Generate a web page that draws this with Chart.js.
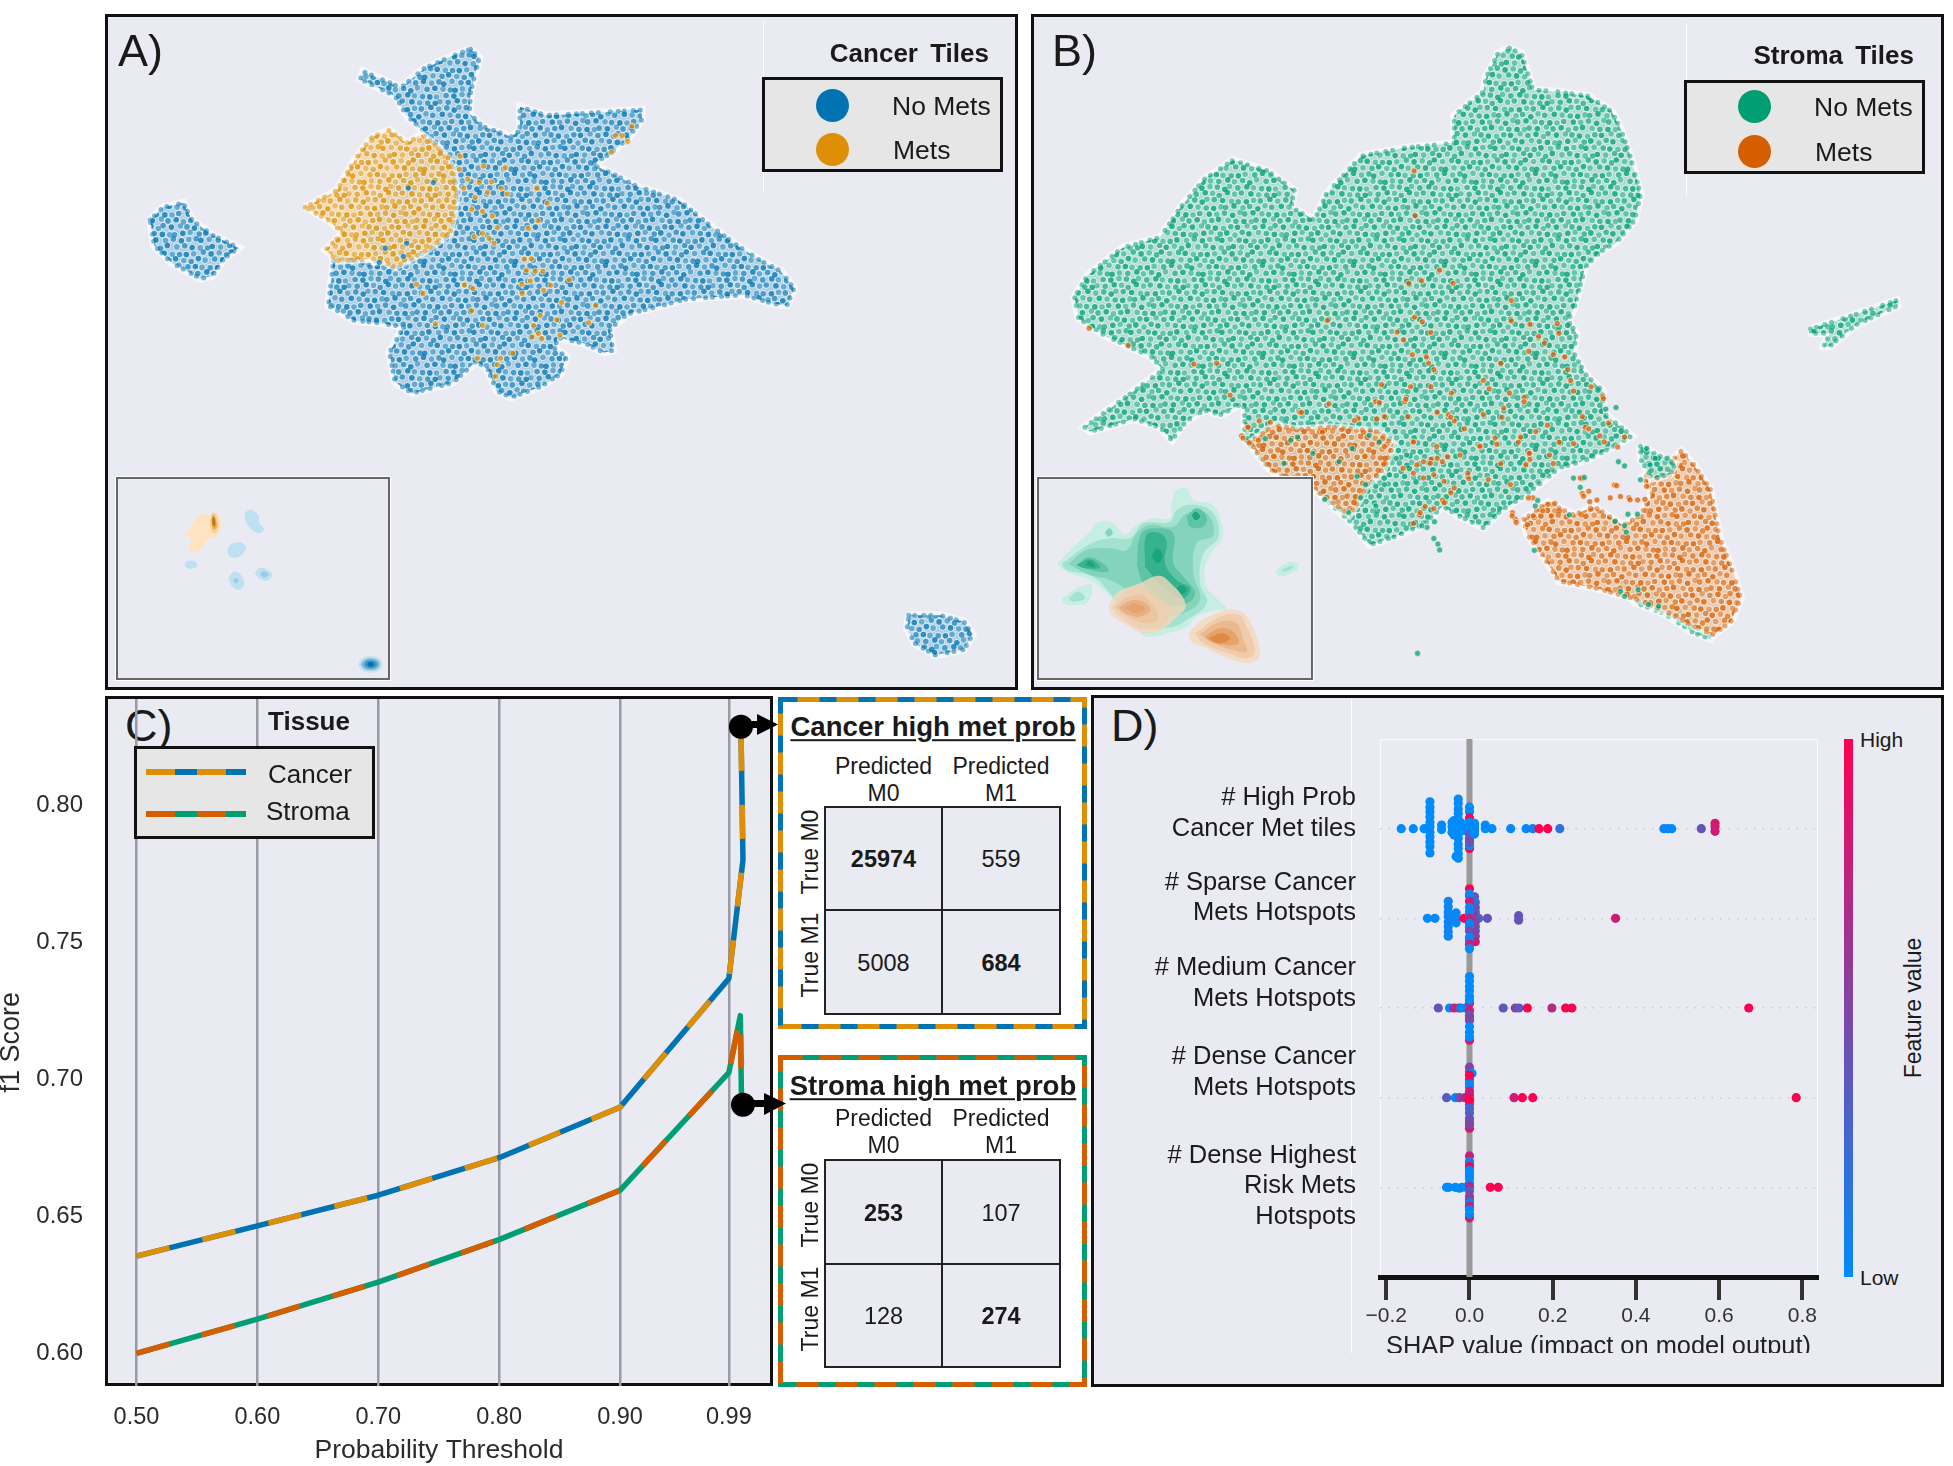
<!DOCTYPE html>
<html>
<head>
<meta charset="utf-8">
<title>Tiles, f1 score and SHAP summary</title>
<script src="https://cdn.jsdelivr.net/npm/chart.js@4/dist/chart.umd.js"></script>
<style>
  html, body { margin: 0; padding: 0; background: #fff; }
  #page { position: relative; width: 1953px; height: 1466px; overflow: hidden; font-family: "Liberation Sans", Arial, sans-serif; color: #1a1a1a; }
  #page > * { position: absolute; }
  .t { white-space: pre; line-height: 1; }
</style>
</head>
<body>
<div id="page"></div>
<script>
// panel C: f1 score against probability threshold
const thresholdTicks = [0.5, 0.6, 0.7, 0.8, 0.9, 0.99];
const f1Ticks = [0.6, 0.65, 0.7, 0.75, 0.8];
const cancerX = [0.5, 0.6, 0.7, 0.8, 0.9, 0.99, 1.0017, 1.0];
const cancerF1 = [0.6355, 0.6465, 0.6577, 0.6714, 0.6898, 0.7367, 0.78, 0.8286];
const stromaX = [0.5, 0.6, 0.7, 0.8, 0.9, 0.99, 0.9995, 1.0005];
const stromaF1 = [0.6, 0.6125, 0.626, 0.6415, 0.6595, 0.7024, 0.7232, 0.6915];
const highProbX = [1.0, 1.0017];
const highProbF1 = [0.8286, 0.6907];

// confusion matrices
const cancerMatrix = [[25974, 559], [5008, 684]];
const stromaMatrix = [[253, 107], [128, 274]];

// panel D: [shap value, swarm offset in rows, feature value 0..1]
const shapFeatures = [
  ["# High Prob", "Cancer Met tiles"],
  ["# Sparse Cancer", "Mets Hotspots"],
  ["# Medium Cancer", "Mets Hotspots"],
  ["# Dense Cancer", "Mets Hotspots"],
  ["# Dense Highest", "Risk Mets", "Hotspots"],
];
const shapTicks = [-0.2, 0, 0.2, 0.4, 0.6, 0.8];
const shapHighProb = [
  [-0.164,0,0],[-0.135,0,0],[-0.109,0,0],
  [-0.095,0.3,0],[-0.095,0.24,0],[-0.095,0.19,0],[-0.095,0.13,0],[-0.095,0.07,0],[-0.095,0.02,0],[-0.095,-0.04,0],[-0.095,-0.09,0],[-0.095,-0.15,0],[-0.095,-0.2,0],[-0.095,-0.27,0],
  [-0.067,0.04,0],[-0.067,-0.01,0],
  [-0.027,0.33,0],[-0.027,0.28,0],[-0.027,0.22,0],[-0.027,0.17,0],[-0.027,0.11,0],[-0.027,0.06,0],[-0.027,0,0],[-0.027,-0.06,0],[-0.027,-0.11,0],[-0.027,-0.17,0],[-0.027,-0.22,0],[-0.027,-0.28,0],[-0.032,-0.31,0],[-0.027,-0.33,0],
  [-0.042,0.07,0],[-0.042,0.02,0],[-0.042,-0.04,0],[-0.037,0.09,0],[-0.037,-0.07,0],[-0.019,0.06,0],[-0.019,-0.02,0],[-0.01,0.04,0],[-0.01,-0.02,0],
  [0,-0.22,1],[0,-0.19,0],[0,0.24,0],[0,0.19,0],[0,0.12,1],[0,0.07,0],[0,0.02,0],[0,-0.02,0],[0,-0.06,0.3],[0,-0.11,0.4],[0,-0.15,0.45],
  [0.012,0.06,0],[0.012,0.03,0],[0.012,0,0],[0.012,-0.03,0],[0.012,-0.06,0],[0.038,0.04,0],[0.038,0,0],[0.054,0,0],
  [0.099,0,0.03],[0.136,0,0],[0.152,0,0.08],[0.167,0,1],[0.188,0,1],[0.217,0,0.18],
  [0.467,0,0.05],[0.477,0,0.05],[0.486,0,0],[0.557,0,0.4],[0.59,0.06,0.85],[0.59,0.02,0.8],[0.59,-0.03,0.8],
];
const shapSparse = [
  [-0.101,0,0],[-0.083,0,0.03],
  [-0.051,0.19,0.05],[-0.051,0.13,0.05],[-0.051,0.07,0.05],[-0.051,0.02,0.05],[-0.051,-0.04,0.05],[-0.051,-0.09,0.05],[-0.051,-0.15,0.05],[-0.051,-0.2,0.05],
  [-0.032,0.06,0.03],[-0.032,0,0.03],[-0.032,-0.05,0.03],
  [-0.013,0,1],[0,0.33,1],[0.012,0.24,0.35],[0.014,0.18,0.2],[0.014,0.12,0.4],[0.014,0.07,0.4],[0.014,0.03,0.35],[0.014,0.01,0.9],[0.022,0,0.3],[0.014,-0.04,0.5],[0.014,-0.09,0.5],[0.014,-0.14,0.45],[0.014,-0.2,0.5],[0.014,-0.26,0.8],
  [0,0.27,0],[0,0.25,0.05],[0,0.19,0.8],[0,0.12,0.05],[0,0.07,0.05],[0,0.03,0.05],[0,0,0.7],[0,-0.06,0],[0,-0.1,0],[0,-0.14,0.45],[0,-0.21,0.02],[0,-0.25,0.05],[0,-0.29,0.75],[0,-0.34,0],
  [0.043,0,0.4],[0.118,0.03,0.4],[0.118,-0.02,0.4],[0.351,0,0.8],
];
const shapMedium = [
  [-0.075,0,0.4],[-0.048,0,0],[-0.037,0,0.7],[-0.026,0,0.8],[-0.021,0,0.03],[-0.01,0,0],
  [0,0.05,0.7],[0,-0.03,0.8],[0,-0.36,0.8],[0,-0.08,0.4],[0,-0.14,0.4],[0,-0.11,0.5],
  [0,0.35,0],[0,0.3,0],[0,0.24,0],[0,0.19,0],[0,0.13,0],[0,0.09,0],[0,-0.21,0],[0,-0.27,0],[0,-0.32,0],
  [0.081,0,0.35],[0.11,0,0.55],[0.119,0,0.35],[0.139,0,1],[0.198,0,0.7],[0.231,0,1],[0.246,0,1],[0.671,0,1],
];
const shapDense = [
  [-0.055,0,0.35],[-0.034,0,0],[-0.024,0,0.45],[-0.011,0,0.75],
  [0,0.34,0.5],[0,0.29,0.5],[0.006,0.27,0],[0,0.2,0.8],[0,0.16,0.05],[0,0.12,0.05],[0,0.07,0.8],[0,0.03,0.8],[0,-0.04,0.9],[0,-0.08,0.4],[0,-0.12,0.3],[0,-0.17,0.3],[0,-0.23,0.4],[0,-0.27,0.45],[0,-0.34,0.85],[0,-0.3,0.5],[0,0.25,1],[0,-0.02,1],
  [0.107,0,0.8],[0.127,0,1],[0.152,0,1],[0.785,0,1],
];
const shapHighest = [
  [-0.055,0,0],[-0.05,0,0],[-0.034,0,0],[-0.024,-0.01,0],[-0.018,0,0],[-0.008,0,0],
  [0,0.35,0.8],[0,0.29,0.1],[0,0.26,0.1],[0,0.23,1],[0,0.19,0],[0,0.16,0],[0,0.13,0],[0,0.1,0],[0,0.05,0],[0,0.01,0.7],[0,-0.04,0.35],[0,-0.1,0.5],[0,-0.14,0.6],[0,-0.17,0.05],[0,-0.34,0.85],[0,-0.21,0.8],[0,-0.25,0],[0,-0.3,0],
  [0.05,0,1],[0.069,0,1],
];

// panel A: cloud outlines in embedding units, first and last vertex the same
const cancerNoMetsMain = [[630,80],[645,100],[630,180],[628,230],[650,260],[700,285],[715,270],[715,215],[760,235],[830,230],[925,222],[925,245],[900,290],[870,325],[840,350],[880,375],[915,400],[990,435],[1040,490],[1090,540],[1130,575],[1165,600],[1187,640],[1175,680],[1150,675],[1100,655],[1050,660],[1000,665],[960,680],[930,690],[900,700],[870,735],[875,785],[860,790],[830,770],[780,755],[775,780],[795,800],[785,840],[750,870],[700,895],[675,880],[660,830],[640,810],[600,860],[530,885],[500,860],[490,790],[515,730],[470,720],[430,715],[385,680],[390,620],[395,560],[470,590],[450,500],[555,280],[520,235],[500,190],[440,150],[445,132],[510,170],[550,125],[600,95],[630,80]];
const cancerNoMetsLeft = [[78,480],[100,450],[135,440],[150,480],[185,515],[230,545],[205,570],[185,610],[165,617],[115,580],[85,540],[78,480]];
const cancerNoMetsRight = [[1385,1405],[1440,1405],[1480,1420],[1495,1450],[1480,1485],[1430,1498],[1395,1470],[1382,1435],[1385,1405]];
const cancerMetsMain = [[345,450],[400,410],[430,340],[460,285],[490,270],[520,300],[545,280],[575,310],[600,360],[605,430],[595,510],[555,550],[500,590],[470,570],[400,575],[380,550],[410,510],[385,480],[345,450]];
const cancerMetsTiles = [[440,105],[477,100],[548,130],[614,135],[475,140],[500,170],[535,180],[572,178],[488,197],[560,210],[602,197],[620,215],[710,198],[523,225],[742,243],[512,262],[545,268],[575,282],[713,296],[684,320],[590,318],[545,335],[520,345],[565,350],[580,365],[693,412],[672,413],[678,447],[705,450],[728,450],[690,480],[665,490],[752,493],[808,476],[665,518],[730,508],[785,545],[888,555],[720,585],[700,615],[715,640],[725,655],[695,650],[780,645],[770,598],[867,607],[512,570],[402,610],[365,518],[345,490],[490,492],[516,503],[530,715],[600,715],[590,735],[585,770],[637,700],[545,615],[948,37],[968,37],[985,55],[998,8],[936,88]];
const cancerNoMetsTiles = [[320,197],[396,180],[315,365],[250,380],[305,405],[232,423]];

// panel B
const stromaNoMetsMain = [[815,78],[835,90],[845,130],[855,175],[900,180],[950,190],[990,225],[1005,265],[1020,320],[1030,370],[1040,420],[1030,480],[1000,530],[970,555],[945,590],[935,640],[925,690],[915,715],[930,745],[925,790],[945,840],[975,880],[975,930],[1025,985],[1000,1005],[950,1040],[900,1060],[860,1105],[835,1130],[800,1160],[770,1200],[725,1170],[700,1150],[670,1190],[620,1220],[575,1240],[545,1190],[480,1110],[400,1060],[360,990],[360,920],[355,910],[320,935],[290,925],[260,950],[235,995],[215,965],[170,945],[95,975],[85,965],[170,880],[220,830],[200,800],[120,750],[75,710],[68,660],[90,610],[150,545],[215,520],[250,450],[290,385],[340,340],[400,365],[445,410],[440,450],[480,480],[500,420],[560,330],[640,310],[720,300],[720,235],[770,180],[775,145],[795,90],[815,78]];
const stromaNoMetsRight = [[1332,735],[1400,705],[1480,668],[1482,680],[1410,725],[1365,775],[1355,775],[1365,745],[1335,745],[1332,735]];
const stromaNoMetsStrip = [[1010,1330],[1050,1340],[1100,1390],[1165,1440],[1160,1460],[1130,1445],[1080,1400],[1030,1375],[1010,1330]];
const stromaNoMetsNeck = [[1040,1010],[1100,1050],[1090,1075],[1060,1085],[1040,1040],[1040,1010]];
const stromaMetsTail = [[840,1180],[880,1140],[925,1170],[960,1150],[1010,1195],[1040,1170],[1060,1120],[1045,1080],[1090,1050],[1110,1020],[1130,1050],[1160,1110],[1175,1220],[1200,1310],[1212,1365],[1195,1420],[1165,1450],[1130,1430],[1090,1400],[1040,1370],[960,1340],[900,1325],[870,1260],[845,1215],[840,1180]];
const stromaMetsLeft = [[370,1000],[410,960],[450,970],[510,965],[590,975],[615,1005],[600,1060],[570,1100],[555,1140],[540,1170],[480,1110],[410,1070],[385,1030],[370,1000]];
const stromaMetsTiles = [[651,365],[653,470],[695,597],[664,622],[642,628],[718,628],[818,668],[502,715],[652,707],[665,718],[622,742],[680,743],[818,716],[850,724],[897,722],[900,745],[633,760],[865,752],[875,768],[648,795],[672,800],[676,815],[685,830],[890,795],[910,800],[848,787],[915,830],[920,855],[595,865],[770,855],[780,875],[815,885],[840,895],[925,880],[955,870],[975,893],[800,815],[680,870],[645,870],[715,885],[585,905],[635,905],[805,920],[840,905],[710,935],[720,950],[770,935],[640,940],[600,940],[555,945],[505,910],[455,930],[335,890],[273,817],[312,815],[940,940],[945,965],[880,960],[860,975],[985,955],[970,985],[790,990],[830,1000],[900,1000],[850,1025],[690,1010],[650,1000],[765,1010],[730,1030],[680,1040],[600,1010],[890,1050],[800,1050],[745,1085],[850,1040],[670,1150],[700,1135],[660,1170],[650,1190],[825,1180],[820,1165],[855,1130],[995,1100],[1020,1130],[1035,1135],[940,1085],[940,1120],[965,1135],[160,773],[93,733],[355,985],[365,965],[385,950]];
const stromaNoMetsTiles = [[657,1494],[685,1225],[692,1238],[695,1252]];
// closer crop of the lower right part of panel B (second axis pair)
const stromaMetsCrop = [[1020,300],[1127,323],[1138,356],[1108,360],[1166,366],[1045,340],[1030,355],[1048,372],[925,380],[945,378],[910,400],[882,415],[935,415],[865,442],[820,415],[832,435],[868,360],[1210,365],[1215,325],[1088,58],[550,405],[590,393],[620,375],[640,345],[615,250],[560,250],[690,285],[750,305],[815,320],[870,225],[860,260],[930,230],[1000,195],[1045,150],[1090,190],[1130,205],[1150,175],[790,115],[845,175],[775,197],[640,115],[680,150],[600,100],[202,100],[263,160],[530,190],[725,203],[357,125],[422,120],[508,60],[430,70],[540,260],[580,255],[600,240],[630,235],[650,330],[620,310],[560,300],[590,290],[530,285],[500,270],[30,178],[48,193],[75,185],[45,145],[110,130]];
const stromaNoMetsCrop = [[1000,300],[1032,298],[1020,328],[1132,250],[1150,263],[1197,305],[1160,410],[1188,410],[1122,432],[1150,445],[1155,465],[988,412],[885,520],[1138,645],[1150,660],[1190,640],[1220,685],[1250,690],[888,385],[895,368],[1095,90],[1125,85],[592,433],[570,450],[555,445],[1215,210],[1240,240],[1275,240],[1225,260],[365,295],[312,250],[190,175],[390,320],[420,325],[445,320],[460,290],[480,240],[510,230],[420,385],[375,360],[340,405],[270,365],[235,225],[170,185],[150,255],[95,180],[350,210],[400,170],[430,190]];

// insets: density contours, palest level first
const insetACancer = [
  { color: "#bfe0f0", shape: [[403,130],[420,120],[445,135],[448,158],[462,178],[450,190],[430,183],[410,160]] },
  { color: "#bfe0f0", shape: [[352,240],[365,222],[395,218],[408,232],[395,255],[375,263],[358,258]] },
  { color: "#bfe0f0", shape: [[223,283],[235,272],[255,275],[262,287],[245,296],[230,293]] },
  { color: "#bfe0f0", shape: [[355,325],[370,306],[390,312],[403,340],[390,358],[368,352]] },
  { color: "#9cc9e4", shape: [[370,332],[378,324],[386,332],[378,340]] },
  { color: "#bfe0f0", shape: [[434,310],[448,294],[470,298],[487,315],[470,332],[448,325]] },
  { color: "#9cc9e4", shape: [[450,312],[462,304],[476,314],[462,322]] },
  { color: "#c6e0ee", shape: [[744,583],[755,565],[782,558],[808,565],[818,583],[808,601],[782,608],[755,601]] },
  { color: "#7fb9db", shape: [[752,583],[762,570],[782,565],[802,570],[810,583],[802,596],[782,601],[762,596]] },
  { color: "#3c93c6", shape: [[762,583],[769,574],[782,571],[795,574],[802,583],[795,592],[782,595],[769,592]] },
  { color: "#0173b2", shape: [[772,583],[775,578],[782,576],[789,578],[792,583],[789,588],[782,590],[775,588]] },
];
const insetAMets = [
  { color: "#fde3bf", shape: [[228,195],[270,135],[300,135],[325,130],[328,190],[290,212],[272,240],[248,245],[235,235],[245,210]] },
  { color: "#f6cf96", shape: [[300,150],[308,128],[320,135],[326,170],[315,190],[302,178]] },
  { color: "#e8a84b", shape: [[304,150],[310,135],[318,150],[320,172],[310,178]] },
  { color: "#bf7a15", shape: [[306,150],[311,140],[316,155],[314,168],[308,165]] },
];
const insetBStroma = [
  { color: "#c6eee2", shape: [[82,282],[120,240],[175,190],[200,160],[240,155],[265,175],[285,195],[320,165],[370,145],[420,145],[425,100],[440,60],[470,55],[490,90],[540,100],[565,130],[578,200],[550,240],[525,290],[530,350],[560,385],[592,420],[560,420],[500,440],[470,470],[430,485],[350,500],[320,470],[250,390],[215,355],[180,330],[110,305]] },
  { color: "#c6eee2", shape: [[95,385],[150,350],[185,345],[175,395],[140,405],[100,400]] },
  { color: "#c6eee2", shape: [[735,305],[770,278],[805,280],[800,300],[750,320]] },
  { color: "#a2e2cf", shape: [[115,385],[145,365],[165,385],[130,395]] },
  { color: "#a2e2cf", shape: [[755,300],[780,288],[790,292],[765,305]] },
  { color: "#a2e2cf", shape: [[95,282],[175,225],[240,205],[300,205],[340,160],[420,155],[440,120],[495,105],[550,130],[565,200],[520,250],[510,340],[530,400],[470,450],[430,470],[340,470],[280,420],[240,370],[190,320],[110,300]] },
  { color: "#84d4bb", shape: [[115,282],[170,240],[240,235],[290,240],[320,190],[360,165],[430,170],[470,130],[530,130],[550,195],[500,220],[490,310],[510,390],[460,430],[400,440],[330,420],[300,370],[240,330],[180,315]] },
  { color: "#84d4bb", shape: [[225,188],[238,175],[248,188],[235,200]] },
  { color: "#5fc4a5", shape: [[140,285],[175,262],[225,285],[235,305],[180,300]] },
  { color: "#5fc4a5", shape: [[320,285],[335,190],[380,175],[430,190],[430,280],[460,320],[495,370],[470,400],[400,400],[340,340]] },
  { color: "#5fc4a5", shape: [[470,140],[500,115],[530,140],[520,170],[480,170]] },
  { color: "#37b28e", shape: [[345,290],[350,195],[390,190],[410,215],[405,280],[440,330],[480,355],[460,385],[410,360],[370,320]] },
  { color: "#37b28e", shape: [[140,285],[180,268],[210,292],[165,295]] },
  { color: "#1aa57f", shape: [[365,262],[380,235],[398,255],[385,280]] },
  { color: "#1aa57f", shape: [[440,355],[455,345],[470,360],[455,372]] },
  { color: "#1aa57f", shape: [[485,135],[497,125],[510,140],[495,150]] },
  { color: "#1aa57f", shape: [[165,285],[178,272],[195,290]] },
];
const insetBMets = [
  { color: "rgba(245,215,190,0.78)", shape: [[235,410],[260,370],[330,340],[380,318],[410,328],[467,405],[430,450],[385,485],[340,490],[290,465],[245,435]] },
  { color: "rgba(240,205,175,0.75)", shape: [[245,412],[290,365],[335,350],[380,380],[420,420],[395,470],[340,478],[280,450]] },
  { color: "rgba(236,192,154,0.75)", shape: [[255,412],[295,380],[340,378],[370,410],[385,445],[350,460],[300,445]] },
  { color: "#e8b083", shape: [[265,412],[300,392],[340,395],[360,420],[330,440],[290,432]] },
  { color: "#e6a26f", shape: [[285,415],[310,400],[345,415],[320,430]] },
  { color: "#f3dcc6", shape: [[475,490],[510,455],[570,425],[620,420],[655,445],[690,550],[665,578],[610,570],[530,535],[485,515]] },
  { color: "#f0ccac", shape: [[495,490],[570,440],[625,435],[650,470],[675,545],[650,565],[600,552],[520,520]] },
  { color: "#eab98e", shape: [[510,492],[570,455],[620,460],[640,510],[650,545],[610,540],[540,515]] },
  { color: "#e6a36c", shape: [[525,500],[570,475],[610,485],[625,520],[590,525],[545,515]] },
  { color: "#df8a45", shape: [[535,505],[575,490],[600,505],[570,520]] },
];

const BLUE = [1, 115, 178], ORANGE = [222, 143, 5], GREEN = [2, 158, 115], RED = [213, 94, 0];
const css = (c, a) => `rgba(${c[0]},${c[1]},${c[2]},${a})`;
const hex = (c) => css(c, 1);

const page = document.getElementById("page");
Chart.defaults.font.family = '"Liberation Sans", Arial, sans-serif';

// page helpers
function box(x1, y1, x2, y2, style) {
  const d = document.createElement("div");
  d.style.cssText = `left:${x1}px;top:${y1}px;width:${x2 - x1}px;height:${y2 - y1}px;box-sizing:border-box;` + (style || "");
  page.appendChild(d);
  return d;
}
function text(str, x, y, size, opts) {
  opts = opts || {};
  const d = document.createElement("div");
  d.className = "t";
  d.textContent = str;
  const ax = opts.anchor === "right" ? "-100%" : opts.anchor === "left" ? "0" : "-50%";
  d.style.cssText = `left:${x}px;top:${y}px;font-size:${size}px;transform:translate(${ax},-50%)` +
    (opts.rotate ? " rotate(-90deg)" : "") + ";" +
    (opts.bold ? "font-weight:bold;" : "") + (opts.underline ? "text-decoration:underline;text-underline-offset:3px;text-decoration-thickness:2px;" : "") + (opts.style || "");
  page.appendChild(d);
}
function canvasAt(x, y, w, h) {
  const c = document.createElement("canvas");
  c.width = w; c.height = h;
  c.style.cssText = `left:${x}px;top:${y}px;width:${w}px;height:${h}px;`;
  page.appendChild(c);
  return c;
}
// the scales reserve room for their outer labels, which these plots do not want
function noMargins(s) {
  s.paddingLeft = s.paddingRight = s.paddingTop = s.paddingBottom = 0;
}

// tile of overlapping dots used to fill the dense clouds
const jitterX = [0.6, -1.1, 1.4, -0.4, 0.9, -1.5, 0.2, 1.1, -0.8, -0.2, 1.6];
const jitterY = [-0.7, 1.2, 0.1, -1.3, 0.8, 1.5, -0.3, -1.0, 0.5, 1.1, -1.4, 0.3, -0.1];
function dotTile(rgb) {
  const cols = 12, rows = 14, dx = 7.6, dy = 6.6;
  const c = document.createElement("canvas");
  c.width = cols * dx; c.height = rows * dy;
  const g = c.getContext("2d");
  g.fillStyle = "rgba(255,255,255,0.6)";
  g.fillRect(0, 0, c.width, c.height);
  g.fillStyle = css(rgb, 0.3);
  g.fillRect(0, 0, c.width, c.height);
  for (let pass = 0; pass < 2; pass++) {
    for (let r = 0; r < rows; r++) {
      for (let k = 0; k < cols; k++) {
        const px = k * dx + (r % 2) * dx / 2 + jitterX[(k * 3 + r * 5) % 11];
        const py = r * dy + jitterY[(k * 5 + r * 7) % 13];
        for (const ox of [-c.width, 0, c.width]) for (const oy of [-c.height, 0, c.height]) {
          g.beginPath();
          if (pass === 0) {
            g.arc(px + ox, py + oy, 3.8, 0, Math.PI * 2);
            g.fillStyle = "rgba(255,255,255,0.5)";
          } else {
            g.arc(px + ox, py + oy, 2.8, 0, Math.PI * 2);
            g.fillStyle = css(rgb, 0.53 + ((k + r) % 3) * 0.13);
          }
          g.fill();
        }
      }
    }
  }
  return g.createPattern(c, "repeat");
}

const toXY = (pts) => pts.map((p) => ({ x: p[0], y: p[1] }));

// filled cloud plus scalloped rim of dots along the outline
function cloud(outline, rgb, pattern) {
  const data = toXY(outline);
  return [
    { data, showLine: true, fill: false, borderColor: "rgba(255,255,255,0.6)", borderWidth: 8, pointRadius: 0 },
    { data, showLine: true, fill: "shape", backgroundColor: pattern, borderWidth: 0, pointRadius: 0 },
    { data, showLine: true, fill: false, borderColor: css(rgb, 0.5), borderWidth: 5, borderDash: [0, 6, 0, 9, 0, 7, 0, 12, 0, 8], borderCapStyle: "round", pointRadius: 0 },
  ];
}
function tiles(pts, rgb, crop) {
  const d = { data: toXY(pts), pointRadius: 3.1, pointBackgroundColor: css(rgb, 0.72), pointBorderColor: "rgba(255,255,255,0.6)", pointBorderWidth: 1, showLine: false };
  if (crop) { d.xAxisID = "xc"; d.yAxisID = "yc"; }
  return d;
}
function contours(levels) {
  return levels.map((l) => {
    const data = toXY(l.shape.concat([l.shape[0]]));
    return { data, showLine: true, fill: "shape", tension: 0.4, backgroundColor: l.color, borderWidth: 0, pointRadius: 0 };
  });
}
const hidden = (extra) => Object.assign({ type: "linear", display: false }, extra);

// chart with no visible axes; Chart.js paints the first dataset last, so reverse to keep the layering
function mapChart(canvas, datasets, scales) {
  return new Chart(canvas, {
    type: "scatter",
    data: { datasets: datasets.slice().reverse() },
    options: {
      responsive: false, animation: false, events: [],
      layout: { padding: 0 },
      elements: { line: { tension: 0 } },
      plugins: { legend: { display: false }, tooltip: { enabled: false }, filler: { drawTime: "beforeDatasetDraw" } },
      scales,
    },
  });
}

const PANEL = "background:#eaeaf2;border:3.5px solid #111;";

// panel frames
box(105, 14, 1018, 690, PANEL);
box(1031, 14, 1944, 690, PANEL);
box(105, 696, 773, 1386, PANEL);
box(1091, 695, 1944, 1387, PANEL);

// white axis remnants behind the legends
box(763, 21, 764, 192, "background:#fff;");
box(1686, 23, 1687, 196, "background:#fff;");
box(1351, 700, 1352, 1353, "background:#fff;");

// panel A scatter
const cancerBlue = dotTile(BLUE), cancerOrange = dotTile(ORANGE), stromaGreen = dotTile(GREEN), stromaRed = dotTile(RED);
mapChart(canvasAt(100, 10, 920, 680), [
  ...cloud(cancerNoMetsMain, BLUE, cancerBlue),
  ...cloud(cancerNoMetsLeft, BLUE, cancerBlue),
  ...cloud(cancerNoMetsRight, BLUE, cancerBlue),
  ...cloud(cancerMetsMain, ORANGE, cancerOrange),
  tiles(cancerMetsTiles, ORANGE, true),
  tiles(cancerNoMetsTiles, BLUE, true),
], {
  x: hidden({ min: 0, max: 1568 }), y: hidden({ min: 0, max: 1568, reverse: true }),
  xc: hidden({ axis: "x", min: -600, max: 2160 }), yc: hidden({ axis: "y", min: -330, max: 1710, reverse: true }),
});

// panel B scatter
mapChart(canvasAt(1030, 10, 923, 680), [
  ...cloud(stromaNoMetsMain, GREEN, stromaGreen),
  ...cloud(stromaNoMetsRight, GREEN, stromaGreen),
  ...cloud(stromaMetsLeft, RED, stromaRed),
  ...cloud(stromaNoMetsStrip, GREEN, stromaGreen),
  ...cloud(stromaMetsTail, RED, stromaRed),
  ...cloud(stromaNoMetsNeck, GREEN, stromaGreen),
  tiles(stromaMetsTiles, RED),
  tiles(stromaNoMetsTiles, GREEN),
  tiles(stromaMetsCrop, RED, true),
  tiles(stromaNoMetsCrop, GREEN, true),
], {
  x: hidden({ min: 0, max: 1568 }), y: hidden({ min: 0, max: 1568, reverse: true }),
  xc: hidden({ axis: "x", min: -580.8, max: 2099.6 }), yc: hidden({ axis: "y", min: -1110, max: 930, reverse: true }),
});

// insets
const INSET = "background:#eaeaf2;border:2px solid #666;outline:1px solid #fff;";
const insetScales = { x: hidden({ min: 0, max: 870 }), y: hidden({ min: 0, max: 660, reverse: true }) };
box(116, 477, 390, 680, INSET);
box(1037, 477, 1313, 680, INSET);
mapChart(canvasAt(110, 470, 290, 220), [...contours(insetAMets), ...contours(insetACancer)], insetScales);
mapChart(canvasAt(1030, 470, 290, 220), [...contours(insetBStroma), ...contours(insetBMets)], insetScales);

// panel letters
text("A)", 118, 50, 45, { anchor: "left" });
text("B)", 1052, 50, 45, { anchor: "left" });
text("C)", 125, 725, 45, { anchor: "left" });
text("D)", 1111, 725, 45, { anchor: "left" });

// legends of A and B
const LEGEND = "background:#e6e6e6;border:3.5px solid #111;";
function dotLegend(x1, y1, x2, y2, title, titleX, titleY, markX, rowA, rowB, colA, colB, textX) {
  box(x1, y1, x2, y2, LEGEND);
  text(title, titleX, titleY, 26, { anchor: "right", bold: true, style: "word-spacing:5px;" });
  box(markX - 16.5, rowA - 16.5, markX + 16.5, rowA + 16.5, `border-radius:50%;background:${hex(colA)};`);
  box(markX - 16.5, rowB - 16.5, markX + 16.5, rowB + 16.5, `border-radius:50%;background:${hex(colB)};`);
  text("No Mets", textX, rowA + 1, 26.5, { anchor: "left" });
  text("Mets", textX + 1, rowB + 1, 26.5, { anchor: "left" });
}
dotLegend(762, 77, 1003, 172, "Cancer Tiles", 989, 53, 832, 105, 149, BLUE, ORANGE, 892);
dotLegend(1684, 80, 1925, 174, "Stroma Tiles", 1914, 55, 1754, 106, 151, GREEN, RED, 1814);

// panel C (canvas runs a little past the frame: the layout keeps a few px free at the top and right)
const lineData = (xs, ys) => xs.map((x, i) => ({ x, y: ys[i] }));
const lineStyle = { showLine: true, borderWidth: 5.5, borderJoinStyle: "round", pointRadius: 0 };
new Chart(canvasAt(0, 686, 785, 780), {
  type: "scatter",
  data: {
    datasets: [
      { data: lineData(highProbX, highProbF1), pointRadius: 12, pointBackgroundColor: "#000", showLine: false },
      { ...lineStyle, data: lineData(cancerX, cancerF1), borderColor: hex(ORANGE), borderDash: [34, 34] },
      { ...lineStyle, data: lineData(cancerX, cancerF1), borderColor: hex(BLUE) },
      { ...lineStyle, data: lineData(stromaX, stromaF1), borderColor: hex(RED), borderDash: [34, 34] },
      { ...lineStyle, data: lineData(stromaX, stromaF1), borderColor: hex(GREEN) },
    ],
  },
  options: {
    responsive: false, animation: false, events: [],
    layout: { padding: { top: 3, right: 3 } },
    plugins: { legend: { display: false }, tooltip: { enabled: false } },
    scales: {
      x: {
        type: "linear", min: 0.4748, max: 1.0257,
        afterBuildTicks: (s) => { s.ticks = thresholdTicks.map((value) => ({ value })); },
        afterFit: (s) => { s.height = 80.5; noMargins(s); },
        grid: { color: "#9a9aa4", lineWidth: 2.5, drawTicks: false },
        border: { display: false },
        ticks: { padding: 18, autoSkip: false, maxRotation: 0, color: "#2b2b2b", font: { size: 23.5 }, callback: (v) => v.toFixed(2) },
        title: { display: true, text: "Probability Threshold", color: "#2b2b2b", font: { size: 26.5, lineHeight: 1 }, padding: { bottom: 2 } },
      },
      y: {
        type: "linear", min: 0.5883, max: 0.8387,
        afterBuildTicks: (s) => { s.ticks = f1Ticks.map((value) => ({ value })); },
        afterFit: (s) => { s.width = 106; noMargins(s); },
        grid: { display: false },
        border: { display: false },
        ticks: { padding: 15, color: "#2b2b2b", font: { size: 24 }, callback: (v) => v.toFixed(2) },
        title: { display: true, text: "f1 Score", color: "#2b2b2b", font: { size: 27, lineHeight: 0.85 }, padding: 0 },
      },
    },
  },
});

// legend of C
text("Tissue", 309, 721, 26, { bold: true });
box(134, 746, 375, 839, LEGEND);
text("Cancer", 268, 774, 26, { anchor: "left" });
text("Stroma", 266, 811, 26, { anchor: "left" });

// confusion matrix frames
function matrixFrame(x1, y1, x2, y2, base, dash, on, off) {
  box(x1, y1, x2, y2, "background:#fff;");
  const hw = 2.5;
  const r = `x="${x1 + hw}" y="${y1 + hw}" width="${x2 - x1 - 2 * hw}" height="${y2 - y1 - 2 * hw}" fill="none" stroke-width="5"`;
  return `<rect ${r} stroke="${hex(base)}"/><rect ${r} stroke="${hex(dash)}" stroke-dasharray="${on} ${off}"/>`;
}
let overlay = matrixFrame(778, 697, 1087, 1029, ORANGE, BLUE, 17, 22);
overlay += matrixFrame(778, 1055, 1087, 1387, GREEN, RED, 22, 17);

function matrix(values, title, titleY, predY, left, mid, right, top, middle, bottom) {
  text(title, (left + right) / 2 - 9.5, titleY, 27.6, { bold: true, underline: true });
  const colX = [(left + mid) / 2, (mid + right) / 2], rowY = [(top + middle) / 2, (middle + bottom) / 2];
  ["M0", "M1"].forEach((m, i) => {
    text("Predicted", colX[i], predY, 23);
    text(m, colX[i], predY + 27, 23);
    text("True " + m, left - 15, rowY[i] - 6, 23, { rotate: true });
  });
  box(left - 1, top, right + 1, bottom + 2, "background:#eaeaf2;border:2px solid #222;");
  box(mid - 1, top, mid + 1, bottom, "background:#222;");
  box(left - 1, middle, right, middle + 2, "background:#222;");
  values.forEach((row, r) => row.forEach((v, c) => {
    text(String(v), colX[c], rowY[r] + 2.5, 23.5, { bold: r === c });
  }));
}
matrix(cancerMatrix, "Cancer high met prob", 727, 766, 825, 942, 1060, 806, 909, 1013);
matrix(stromaMatrix, "Stroma high met prob", 1086, 1118, 825, 942, 1060, 1159, 1263, 1366);

// panel D
box(1380, 739, 1818, 1277, "border:1px solid rgba(255,255,255,0.8);border-bottom:none;");
const shapRows = [shapHighProb, shapSparse, shapMedium, shapDense, shapHighest];
const ROW_TOP = 4;
function featureColor(v) {
  const lo = [0, 139, 251], hi = [255, 0, 81];
  return `rgb(${lo.map((c, i) => Math.round(c + (hi[i] - c) * v)).join(",")})`;
}
const swarmSets = shapRows.map((row, i) => ({
  data: row.map((p) => ({ x: p[0], y: ROW_TOP - i + p[1] })),
  pointRadius: 4.6, pointBorderWidth: 0,
  pointBackgroundColor: row.map((p) => featureColor(p[2])), showLine: false,
}));
const zeroLine = { data: [{ x: 0, y: -1 }, { x: 0, y: 5 }], showLine: true, borderColor: "#999", borderWidth: 6, pointRadius: 0 };
new Chart(canvasAt(1352, 700, 500, 653), {
  type: "scatter",
  data: { datasets: swarmSets.concat([zeroLine]) },
  options: {
    responsive: false, animation: false, events: [],
    layout: { padding: { left: 28, right: 35, top: 39 } },
    plugins: { legend: { display: false }, tooltip: { enabled: false } },
    scales: {
      x: {
        type: "linear", min: -0.215, max: 0.835,
        afterBuildTicks: (s) => { s.ticks = shapTicks.map((value) => ({ value })); },
        afterFit: (s) => { s.height = 76; noMargins(s); },
        grid: { drawOnChartArea: false, color: "#333", lineWidth: 4, tickLength: 23 },
        border: { display: true, color: "#111", width: 5 },
        ticks: { padding: 4, autoSkip: false, maxRotation: 0, color: "#333", font: { size: 21 }, callback: (v) => (v < 0 ? "\u2212" : "") + Math.abs(v).toFixed(1) },
        title: { display: true, text: "SHAP value (impact on model output)", color: "#222", font: { size: 25.4, lineHeight: 0.45 }, padding: 0 },
      },
      y: {
        type: "linear", min: -1, max: 5, display: true,
        afterBuildTicks: (s) => { s.ticks = [0, 1, 2, 3, 4].map((value) => ({ value })); },
        afterFit: (s) => { s.width = 0; noMargins(s); },
        grid: { color: "#c9c9d2", lineWidth: 1.5, drawTicks: false },
        border: { display: false, dash: [1.5, 7] },
        ticks: { display: false },
      },
    },
  },
});

// feature names to the left of the swarms
const labelY = [[797, 828], [882, 912], [967, 998], [1056, 1087], [1155, 1185, 1216]];
shapFeatures.forEach((lines, i) => lines.forEach((line, k) => {
  text(line, 1356, labelY[i][k], 25.5, { anchor: "right" });
}));

// colour bar
box(1844, 739, 1853, 1277, "background:linear-gradient(to top,#008bfb,#ff0051);");
text("High", 1860, 739, 21, { anchor: "left" });
text("Low", 1860, 1277, 21, { anchor: "left" });
text("Feature value", 1913, 1008, 23, { rotate: true });

// arrows and legend keys on top of everything
function twoTone(x1, y, x2, base, top) {
  return `<line x1="${x1}" y1="${y}" x2="${x2}" y2="${y}" stroke="${hex(base)}" stroke-width="6"/>` +
    `<line x1="${x1}" y1="${y}" x2="${x2}" y2="${y}" stroke="${hex(top)}" stroke-width="6" stroke-dasharray="29 22"/>`;
}
overlay += twoTone(146, 772, 246, BLUE, ORANGE) + twoTone(146, 814, 246, GREEN, RED);
overlay += `<line x1="740" y1="724.5" x2="760" y2="724.5" stroke="#000" stroke-width="7"/><polygon points="757,714 778,724.5 757,735" fill="#000"/>`;
overlay += `<line x1="743" y1="1103.5" x2="768" y2="1103.5" stroke="#000" stroke-width="7"/><polygon points="764,1093 786,1103.5 764,1115" fill="#000"/>`;
const svg = document.createElementNS("http://www.w3.org/2000/svg", "svg");
svg.setAttribute("width", 1953); svg.setAttribute("height", 1466);
svg.style.cssText = "left:0;top:0;pointer-events:none;";
svg.innerHTML = overlay;
page.appendChild(svg);
</script>
</body>
</html>
